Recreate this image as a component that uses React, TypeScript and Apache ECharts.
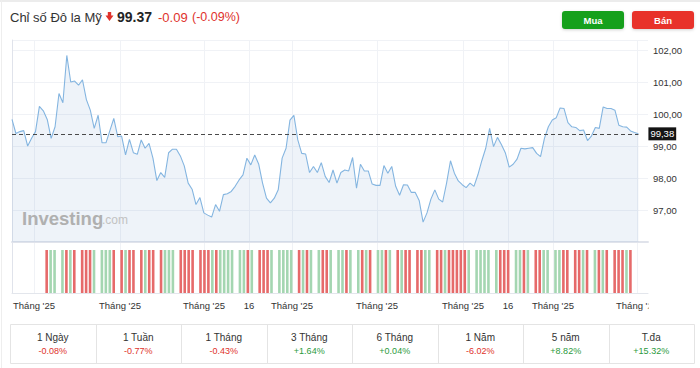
import React, { useEffect, useRef } from 'react';
import * as echarts from 'echarts';

const FONT = 'Liberation Sans, Arial, Helvetica, sans-serif';

const instrument = 'Chỉ số Đô la Mỹ';
const lastPriceText = '99.37';
const changeText = '-0.09';
const changePctText = '(-0.09%)';
const buyText = 'Mua';
const sellText = 'Bán';

// daily closes
const prices = [
  99.83, 99.39, 99.45, 99.48, 99.0, 99.24, 99.45, 100.24, 100.1, 99.83,
  99.24, 99.6, 100.64, 100.35, 101.83, 101.0, 101.03, 100.9, 101.07, 100.45,
  100.12, 99.55, 99.96, 99.1, 99.1, 99.48, 99.86, 99.29, 99.31, 98.72,
  99.21, 98.79, 98.74, 99.19, 98.93, 99.08, 98.62, 97.92, 98.17, 98.02,
  98.79, 98.9, 98.9, 98.69, 98.38, 97.84, 97.65, 97.17, 97.39, 96.91,
  96.84, 96.78, 97.17, 96.96, 97.48, 97.51, 97.58, 97.74, 97.94, 98.1,
  98.62, 98.41, 98.72, 98.44, 97.84, 97.37, 97.22, 97.37, 97.63, 98.62,
  98.93, 99.81, 99.96, 99.19, 98.77, 98.75, 98.17, 98.36, 98.17, 98.48,
  98.05, 97.86,
  98.25, 97.84, 98.17, 98.25, 98.22, 98.64, 97.68, 98.43, 98.22, 98.22,
  97.81, 97.77, 97.77, 98.39, 98.15, 98.36, 97.74, 97.46, 97.79, 97.78,
  97.55, 97.55, 97.3, 96.62, 96.91, 97.34, 97.63, 97.34, 97.25, 97.84,
  98.54, 98.15, 97.91, 97.79, 97.7, 97.84, 97.74, 98.1, 98.54, 98.93,
  99.55, 98.98, 99.27, 99.05, 98.79, 98.34, 98.43, 98.59, 98.93, 98.91,
  98.93, 98.95, 98.77, 98.67, 99.24, 99.6, 99.81, 99.88, 100.19, 100.17,
  99.73, 99.6, 99.58, 99.48, 99.5, 99.17, 99.31, 99.58, 99.55, 100.22,
  100.17, 100.17, 100.12, 99.65, 99.6, 99.59, 99.47, 99.42, 99.38,
];

// volume bars: r = down, g = up, - = no bar
const volumeSideGroups = [
  'rgg-g', 'rgr-r', 'rrg-g', 'ggr-r', 'grr-r', 'grr-r', 'ggg-r', 'rrr-r',
  'rrgrg', 'ggg-g', 'grg-r', 'rrg-g', 'ggg-r', 'grg-g', 'rrg-g', 'grg-g',
  'rgr-g', 'grg-r', 'grr-r', 'rgg-r', 'rgrrr', 'rrg-g', 'ggg-g', 'rrr-g',
  'grg-r', 'rgg-g', 'grr-r', 'rgr-g', 'rgr-r', 'rrgr',
];
const volumeSides = volumeSideGroups.join('').split('');
const volumeLevel = 1; // every bar reaches the same height

// x-axis ticks (in trading-day index units) and their labels
const xTickPos = [5.62, 27.59, 49.04, 60.54, 71.52, 93.23, 115.2, 126.69, 138.19, 159.64];
const xTickLabels = [
  "Tháng '25", "Tháng '25", "Tháng '25", '16', "Tháng '25",
  "Tháng '25", "Tháng '25", '16', "Tháng '25", "Tháng '25",
];

const periods = ['1 Ngày', '1 Tuần', '1 Tháng', '3 Tháng', '6 Tháng', '1 Năm', '5 năm', 'T.đa'];
const periodChanges = [-0.08, -0.77, -0.43, 1.64, 0.04, -6.02, 8.82, 15.32];

const RED = '#e0322c';
const GREEN = '#2b9a3d';

export default function App() {
  const ref = useRef<HTMLDivElement>(null);

  useEffect(() => {
    if (!ref.current) return;
    const chart = echarts.init(ref.current, undefined, { renderer: 'svg' });
    const n = prices.length;
    const last = prices[n - 1];
    const fmt = (v: number) => v.toFixed(2).replace('.', ',');
    const X_MAX = 162.45;

    const tableLeft = 10;
    const tableRight = 694;
    const cellW = (tableRight - tableLeft) / periods.length;

    const graphics: any[] = [
      { type: 'rect', z: 100, shape: { x: 0, y: 0, width: 700, height: 2 }, style: { fill: '#ececec' } },
      { type: 'rect', z: 100, shape: { x: 1, y: 0, width: 1, height: 368 }, style: { fill: '#eeeeee' } },
      {
        type: 'text', z: 100, x: 10, y: 17,
        style: { text: instrument, fontSize: 13, fontFamily: FONT, fill: '#333', textVerticalAlign: 'middle', verticalAlign: 'middle' },
      },
      {
        type: 'polygon', z: 100,
        shape: { points: [[107.8, 12], [111.2, 12], [111.2, 15.5], [113.5, 15.5], [109.5, 21], [105.5, 15.5], [107.8, 15.5]] },
        style: { fill: RED },
      },
      {
        type: 'text', z: 100, x: 117, y: 17,
        style: { text: lastPriceText, fontSize: 14, fontWeight: 'bold', fontFamily: FONT, fill: '#232526', textVerticalAlign: 'middle', verticalAlign: 'middle' },
      },
      {
        type: 'text', z: 100, x: 158, y: 17,
        style: { text: changeText, fontSize: 13, fontFamily: FONT, fill: RED, textVerticalAlign: 'middle', verticalAlign: 'middle' },
      },
      {
        type: 'text', z: 100, x: 192, y: 17,
        style: { text: changePctText, fontSize: 12.5, fontFamily: FONT, fill: RED, textVerticalAlign: 'middle', verticalAlign: 'middle' },
      },
      {
        type: 'rect', z: 100, shape: { x: 562, y: 11, width: 62, height: 18, r: 3 },
        style: { fill: '#17a01b', shadowBlur: 3, shadowColor: 'rgba(0,0,0,0.18)', shadowOffsetY: 1 },
      },
      {
        type: 'text', z: 101, x: 593, y: 20,
        style: { text: buyText, fontSize: 9.5, fontWeight: 'bold', fontFamily: FONT, fill: '#fff', textAlign: 'center', align: 'center', textVerticalAlign: 'middle', verticalAlign: 'middle' },
      },
      {
        type: 'rect', z: 100, shape: { x: 632, y: 11, width: 62, height: 18, r: 3 },
        style: { fill: '#e8322b', shadowBlur: 3, shadowColor: 'rgba(0,0,0,0.18)', shadowOffsetY: 1 },
      },
      {
        type: 'text', z: 101, x: 663, y: 20,
        style: { text: sellText, fontSize: 9.5, fontWeight: 'bold', fontFamily: FONT, fill: '#fff', textAlign: 'center', align: 'center', textVerticalAlign: 'middle', verticalAlign: 'middle' },
      },
      {
        type: 'text', z: 50, x: 22, y: 218,
        style: { text: 'Investing', fontSize: 18.5, fontWeight: 'bold', fontFamily: FONT, fill: '#b0b0b0', textVerticalAlign: 'middle', verticalAlign: 'middle' },
      },
      {
        type: 'text', z: 50, x: 102, y: 220,
        style: { text: '.com', fontSize: 12, fontFamily: FONT, fill: '#c2c2c2', textVerticalAlign: 'middle', verticalAlign: 'middle' },
      },
      // cover for the clipped last x label
      { type: 'rect', z: 100, shape: { x: 648.5, y: 296, width: 52, height: 18 }, style: { fill: '#ffffff' } },
      {
        type: 'rect', z: 100, shape: { x: tableLeft + 0.5, y: 324.5, width: tableRight - tableLeft, height: 39 },
        style: { fill: '#fff', stroke: '#e4e4e4', lineWidth: 1 },
      },
    ];
    periods.forEach((p, i) => {
      const cx = tableLeft + cellW * (i + 0.5);
      if (i > 0) {
        const lx = Math.round(tableLeft + cellW * i) + 0.5;
        graphics.push({ type: 'line', z: 101, shape: { x1: lx, y1: 324.5, x2: lx, y2: 363.5 }, style: { stroke: '#e4e4e4', lineWidth: 1 } });
      }
      graphics.push({
        type: 'text', z: 101, x: cx, y: 337,
        style: { text: p, fontSize: 10, fontFamily: FONT, fill: '#333', textAlign: 'center', align: 'center', textVerticalAlign: 'middle', verticalAlign: 'middle' },
      });
      const c = periodChanges[i];
      graphics.push({
        type: 'text', z: 101, x: cx, y: 351,
        style: {
          text: (c > 0 ? '+' : '') + c.toFixed(2) + '%', fontSize: 9, fontFamily: FONT,
          fill: c >= 0 ? GREEN : RED, textAlign: 'center', align: 'center', textVerticalAlign: 'middle', verticalAlign: 'middle',
        },
      });
    });

    const gridLine = { lineStyle: { color: '#f0f2f6', width: 1 } };

    const option: any = {
      animation: false,
      backgroundColor: '#ffffff',
      textStyle: { fontFamily: FONT },
      grid: [
        { left: 12, right: 52, top: 40, bottom: 126 },
        { left: 44.7, right: 67.6, top: 250, bottom: 75 },
        { left: 12, right: 52, top: 242, bottom: 75 },
      ],
      xAxis: [
        {
          gridIndex: 0, type: 'value', min: 0, max: X_MAX,
          axisLine: { show: true, lineStyle: { color: '#e0e3eb', width: 2 } },
          axisTick: { show: false, customValues: xTickPos },
          axisLabel: { show: false },
          splitLine: { show: true, ...gridLine },
        },
        {
          gridIndex: 1, type: 'category', boundaryGap: true, show: false,
          data: volumeSides.map((_, i) => String(i)),
        },
        {
          gridIndex: 2, type: 'value', min: 0, max: X_MAX,
          axisLine: { show: true, lineStyle: { color: '#e3e6ec', width: 1 } },
          axisTick: { show: false, customValues: xTickPos },
          axisLabel: {
            show: true, customValues: xTickPos, color: '#333', fontSize: 9.5, margin: 7, fontFamily: FONT,
            formatter: (val: number) => {
              const i = xTickPos.findIndex((p) => Math.abs(p - val) < 1e-6);
              return i >= 0 ? xTickLabels[i] : '';
            },
          },
          splitLine: { show: true, ...gridLine },
        },
      ],
      yAxis: [
        {
          gridIndex: 0, type: 'value', position: 'right', min: 96, max: 102.3125, interval: 1,
          axisLine: { show: true, lineStyle: { color: '#e0e3eb' } },
          axisTick: { show: false },
          axisLabel: { showMinLabel: false, showMaxLabel: false, formatter: fmt, color: '#333', fontSize: 9.5, margin: 5, fontFamily: FONT },
          splitLine: { show: true, ...gridLine },
        },
        { gridIndex: 1, type: 'value', min: 0, max: volumeLevel, show: false },
        {
          gridIndex: 2, type: 'value', position: 'right', min: 0, max: 1,
          axisLine: { show: true, lineStyle: { color: '#e0e3eb' } },
          axisTick: { show: false }, axisLabel: { show: false }, splitLine: { show: false },
        },
      ],
      graphic: { elements: graphics },
      series: [
        {
          type: 'line', xAxisIndex: 0, yAxisIndex: 0,
          data: prices.map((v, i) => [i, v]),
          showSymbol: false, symbol: 'none',
          lineStyle: { color: '#84b5e0', width: 1.1 },
          areaStyle: { color: 'rgba(110,150,205,0.17)' },
          markLine: {
            silent: true, symbol: ['none', 'none'],
            lineStyle: { type: [4, 3], color: '#4a4a4a', width: 1 },
            label: {
              show: true, position: 'end', distance: 10, formatter: fmt(last),
              color: '#fff', backgroundColor: '#141414', padding: [2, 2, 1, 2], fontSize: 9.5, fontFamily: FONT,
            },
            data: [[{ coord: [0, last] }, { coord: [n - 1, last] }]],
          },
        },
        {
          type: 'bar', xAxisIndex: 1, yAxisIndex: 1, barWidth: 2.6,
          data: volumeSides.map((s) =>
            s === '-' ? '-' : { value: volumeLevel, itemStyle: { color: s === 'r' ? '#e66a6a' : '#a4d6b1' } },
          ),
        },
      ],
    };

    chart.setOption(option);
    return () => chart.dispose();
  }, []);

  return (
    <div
      ref={ref}
      style={{ position: 'fixed', left: 0, top: 0, width: 700, height: 368, background: '#fff' }}
    />
  );
}
